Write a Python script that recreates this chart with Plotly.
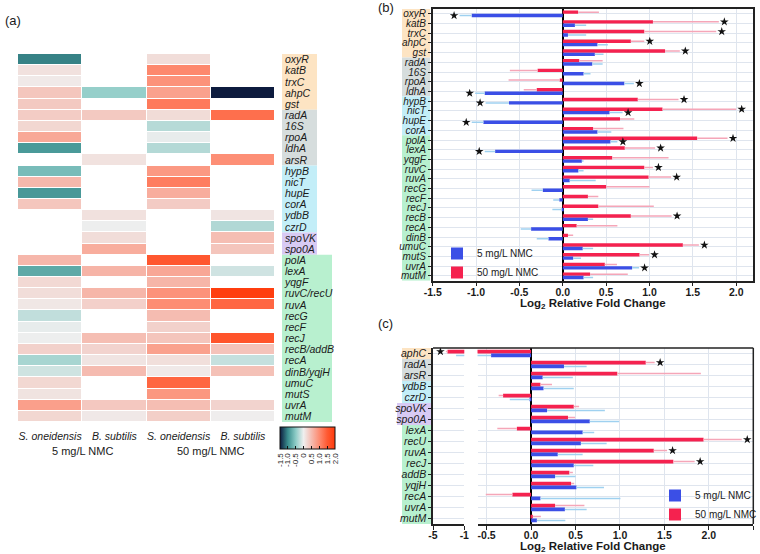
import plotly.graph_objects as go

W, H = 760, 554
FONT = "Liberation Sans, Arial, sans-serif"
TXT = "#1a1a1a"

# ---------------- data: panel (b) S. oneidensis ----------------
so_genes = ["oxyR", "katB", "trxC", "ahpC", "gst", "radA", "16S", "rpoA", "ldhA",
            "hypB", "nicT", "hupE", "corA", "polA", "lexA", "yqgF", "ruvC", "ruvA",
            "recG", "recF", "recJ", "recB", "recA", "dinB", "umuC", "mutS", "uvrA", "mutM"]
so_5 = [-1.05, 0.14, 0.06, 0.40, 0.37, 0.34, 0.24, 0.71, -0.90,
        -0.62, 0.54, -0.915, 0.40, 0.55, -0.78, 0.22, 0.18, 0.08,
        -0.23, -0.04, -0.01, 0.29, -0.365, -0.165, 0.23, 0.12, 0.80, 0.24]
so_5_err = [0.14, 0.13, 0.21, 0.12, 0.10, 0.12, 0.08, 0.11, 0.11,
            0.27, 0.15, 0.135, 0.16, 0.08, 0.12, 0.02, 0.06, 0.30,
            0.13, 0.07, 0.11, 0.06, 0.12, 0.135, 0.12, 0.09, 0.08, 0.11]
so_5_sig = [1, 0, 0, 0, 0, 0, 0, 1, 1,
            1, 1, 1, 0, 1, 1, 0, 0, 0,
            0, 0, 0, 0, 0, 0, 0, 0, 1, 0]
so_50 = [0.177, 1.04, 0.94, 0.785, 1.18, 0.19, -0.29, -0.035, -0.30,
         0.865, 1.15, 0.66, 0.35, 1.55, 0.715, 0.57, 0.94, 0.99,
         0.50, 0.29, 0.41, 0.785, 0.16, 0.06, 1.385, 0.885, 0.485, 0.315]
so_50_err = [0.24, 0.76, 0.83, 0.155, 0.17, 0.27, 0.32, 0.59, 0.15,
             0.47, 0.85, 0.165, 0.35, 0.35, 0.35, 0.65, 0.10, 0.26,
             0.50, 0.12, 0.64, 0.47, 0.47, 0.06, 0.185, 0.11, 0.14, 0.435]
so_50_sig = [0, 1, 1, 1, 1, 0, 0, 0, 0,
             1, 1, 0, 0, 1, 1, 0, 1, 1,
             0, 0, 0, 1, 0, 0, 1, 1, 0, 0]

# ---------------- data: panel (c) B. subtilis ----------------
bs_genes = ["aphC", "radA", "arsR", "ydbB", "czrD", "spoVK", "spo0A", "lexA",
            "recU", "ruvA", "recJ", "addB", "yqjH", "recA", "uvrA", "mutM"]
bs_5 = [-0.45, 0.37, 0.13, 0.14, -0.01, 0.18, 0.66, 0.58,
        0.56, 0.30, 0.48, 0.27, 0.51, 0.105, 0.38, 0.065]
bs_5_err = [1.60, 0.255, 0.34, 0.34, 0.23, 0.65, 0.33, 0.13,
            0.29, 0.28, 0.22, 0.23, 0.31, 0.90, 0.245, 0.32]
bs_5_sig = [0] * 16
bs_50 = [-3.15, 1.29, 0.97, 0.105, -0.315, 0.48, 0.415, -0.16,
         1.94, 1.38, 1.60, 0.43, 0.45, -0.21, 0.27, 0.02]
bs_50_err = [0.20, 0.10, 0.94, 0.13, 0.05, 0.06, 0.08, 0.22,
             0.43, 0.15, 0.24, 0.04, 0.035, 0.30, 0.33, 0.09]
bs_50_sig = [1, 1, 0, 0, 0, 0, 0, 0, 1, 1, 1, 0, 0, 0, 0, 0]

# ---------------- data: panel (a) heatmap rows ----------------
heat_labels = ["oxyR", "katB", "trxC", "ahpC", "gst", "radA", "16S", "rpoA", "ldhA", "arsR",
               "hypB", "nicT", "hupE", "corA", "ydbB", "czrD", "spoVK", "spo0A",
               "polA", "lexA", "yqgF", "ruvC/recU", "ruvA", "recG", "recF", "recJ",
               "recB/addB", "recA", "dinB/yqjH", "umuC", "mutS", "uvrA", "mutM"]
heat_so_key = ["oxyR", "katB", "trxC", "ahpC", "gst", "radA", "16S", "rpoA", "ldhA", None,
               "hypB", "nicT", "hupE", "corA", None, None, None, None,
               "polA", "lexA", "yqgF", "ruvC", "ruvA", "recG", "recF", "recJ",
               "recB", "recA", "dinB", "umuC", "mutS", "uvrA", "mutM"]
heat_bs_key = [None, None, None, "aphC", None, "radA", None, None, None, "arsR",
               None, None, None, None, "ydbB", "czrD", "spoVK", "spo0A",
               None, "lexA", None, "recU", "ruvA", None, None, "recJ",
               "addB", "recA", "yqjH", None, None, "uvrA", "mutM"]
heat_cols = ["S. oneidensis", "B. subtilis", "S. oneidensis", "B. subtilis"]
conc_labels = ["5 mg/L NMC", "50 mg/L NMC"]
cbar_ticks = [-1.5, -1.0, -0.5, 0.0, 0.5, 1.0, 1.5, 2.0]
b_ticks = [-1.5, -1.0, -0.5, 0.0, 0.5, 1.0, 1.5, 2.0]
cr_ticks = [-0.5, 0.0, 0.5, 1.0, 1.5, 2.0, 2.5]
cl_ticks = [-5, -1]

# gene category groups (label background colours)
heat_groups = [("oxyR", "gst", "#fde4c3"), ("radA", "arsR", "#d6dddd"),
               ("hypB", "czrD", "#c3eef8"), ("spoVK", "spo0A", "#d8caf4"),
               ("polA", "mutM", "#b8f0cf")]
so_groups = [("oxyR", "gst", "#fde4c3"), ("radA", "ldhA", "#d6dddd"),
             ("hypB", "corA", "#c3eef8"), ("polA", "mutM", "#b8f0cf")]
bs_groups = [("aphC", "aphC", "#fde4c3"), ("radA", "arsR", "#d6dddd"),
             ("ydbB", "czrD", "#c3eef8"), ("spoVK", "spo0A", "#d8caf4"),
             ("lexA", "mutM", "#b8f0cf")]

BLUE, RED = "#3b4fe6", "#f5224f"
BLUE_ERR, RED_ERR = "#9fd1f0", "#f5a6b8"

# ---------------- layout geometry ----------------
def dx(a, b):
    return [a / W, b / W]

def dy(top, bottom):
    return [1 - bottom / H, 1 - top / H]

XD_HEAT, YD_HEAT = dx(18, 275), dy(54, 422)
XD_B, YD_B = dx(432.7, 753), dy(9, 280.7)
XD_CL, XD_CR, YD_C = dx(433, 464.3), dx(477.5, 753.3), dy(348, 524)
RANGE_B = [-1.5, 2.194]
RANGE_CL = [-5, -1]
RANGE_CR = [-0.603, 2.5]

def ppu(dom, rng):
    return (dom[1] - dom[0]) * W / (rng[1] - rng[0])

PPU_B = ppu(XD_B, RANGE_B)
PPU_CL = ppu(XD_CL, RANGE_CL)
PPU_CR = ppu(XD_CR, RANGE_CR)
STAR_PAD_PX = 5.5
BAR_W = 0.35
OFF = 0.175

fig = go.Figure()

# ---------------- heatmap ----------------
so5d = dict(zip(so_genes, so_5)); so50d = dict(zip(so_genes, so_50))
bs5d = dict(zip(bs_genes, bs_5)); bs50d = dict(zip(bs_genes, bs_50))
nan = float("nan")
z = []
for sk, bk in zip(heat_so_key, heat_bs_key):
    z.append([so5d[sk] if sk else nan, bs5d[bk] if bk else nan,
              so50d[sk] if sk else nan, bs50d[bk] if bk else nan])

cmin, cmax = -1.5, 2.0
stops = [(-1.5, "#0d1b3e"), (-1.0, "#3a8e8e"), (-0.5, "#8ccbc6"), (0.0, "#efefef"),
         (0.5, "#f5bcb1"), (1.0, "#fd8c72"), (1.5, "#ff5a33"), (2.0, "#ff3a0a")]
cscale = [[(v - cmin) / (cmax - cmin), c] for v, c in stops]

fig.add_trace(go.Heatmap(
    z=z, x=list(range(4)), y=list(range(len(heat_labels))),
    colorscale=cscale, zmin=cmin, zmax=cmax, xgap=1, ygap=1,
    hoverinfo="skip", xaxis="x", yaxis="y",
    colorbar=dict(orientation="h", x=280 / W, xanchor="left", y=1 - 427 / H, yanchor="top",
                  len=55, lenmode="pixels", thickness=22, thicknessmode="pixels",
                  xpad=0, ypad=0, tickvals=cbar_ticks,
                  ticktext=["0" if t == 0 else f"{t:.1f}" for t in cbar_ticks],
                  tickangle=-90, tickfont=dict(size=8, color=TXT, family=FONT),
                  ticks="inside", ticklen=3, tickcolor="#111",
                  outlinecolor="#111", outlinewidth=1),
))

# ---------------- bar panels ----------------
def add_bars(vals, errs, sig, idx_offset, color, ecolor, name, xa, ya, legend, show, rank, ppu_ax):
    ys = [i + idx_offset for i in range(len(vals))]
    plus = [e if v >= 0 else 0 for v, e in zip(vals, errs)]
    minus = [0 if v >= 0 else e for v, e in zip(vals, errs)]
    fig.add_trace(go.Bar(
        x=vals, y=ys, orientation="h", width=BAR_W, name=name,
        marker=dict(color=color, line=dict(width=0)),
        error_x=dict(type="data", symmetric=False, array=plus, arrayminus=minus,
                     color=ecolor, thickness=1.5, width=0),
        xaxis=xa, yaxis=ya, legend=legend, showlegend=show, legendrank=rank,
        hoverinfo="skip"))
    sx, sy = [], []
    for v, e, s, y in zip(vals, errs, sig, ys):
        if s:
            sgn = 1 if v >= 0 else -1
            sx.append(v + sgn * (e + STAR_PAD_PX / ppu_ax))
            sy.append(y)
    if sx:
        fig.add_trace(go.Scatter(
            x=sx, y=sy, mode="markers", xaxis=xa, yaxis=ya, showlegend=False,
            marker=dict(symbol="star", size=6.5, color="#111"), hoverinfo="skip"))

# panel (b)
add_bars(so_50, so_50_err, so_50_sig, -OFF, RED, RED_ERR, "50 mg/L NMC", "x2", "y2", "legend", True, 2, PPU_B)
add_bars(so_5, so_5_err, so_5_sig, OFF, BLUE, BLUE_ERR, "5 mg/L NMC", "x2", "y2", "legend", True, 1, PPU_B)
# panel (c): right and left (broken) segments
add_bars(bs_50, bs_50_err, bs_50_sig, -OFF, RED, RED_ERR, "50 mg/L NMC", "x4", "y3", "legend2", True, 2, PPU_CR)
add_bars(bs_5, bs_5_err, bs_5_sig, OFF, BLUE, BLUE_ERR, "5 mg/L NMC", "x4", "y3", "legend2", True, 1, PPU_CR)
add_bars(bs_50, bs_50_err, bs_50_sig, -OFF, RED, RED_ERR, "50 mg/L NMC", "x3", "y3", "legend2", False, 2, PPU_CL)
add_bars(bs_5, bs_5_err, bs_5_sig, OFF, BLUE, BLUE_ERR, "5 mg/L NMC", "x3", "y3", "legend2", False, 1, PPU_CL)

# ---------------- axes ----------------
GRID = "#dfe5ee"
LINE = "#222222"
tickfont_b = dict(size=10.5, color=TXT, family=FONT, weight="bold")
ytickfont = dict(size=10.5, color=TXT, family=FONT)
ytickfont_b = dict(size=10, color=TXT, family=FONT)

def fmt(v):
    return f"{v:.1f}"

fig.update_layout(
    width=W, height=H, margin=dict(l=0, r=0, t=0, b=0, autoexpand=False),
    paper_bgcolor="white", plot_bgcolor="white", barmode="overlay",
    font=dict(family=FONT, color=TXT),
    xaxis=dict(domain=XD_HEAT, anchor="y", range=[-0.5, 3.5], tickvals=list(range(4)),
               ticktext=[f"<i>{c}</i>" for c in heat_cols], showgrid=False, zeroline=False,
               ticks="", ticklabelstandoff=6, automargin=False,
               tickfont=dict(size=10.5, color=TXT, family=FONT)),
    yaxis=dict(domain=YD_HEAT, anchor="x", side="right", range=[len(heat_labels) - 0.5, -0.5],
               tickvals=list(range(len(heat_labels))), ticktext=[f"<i>{g}</i>" for g in heat_labels],
               showgrid=False, zeroline=False, ticks="", ticklabelstandoff=9, automargin=False,
               tickfont=ytickfont),
    xaxis2=dict(domain=XD_B, anchor="y2", range=RANGE_B, tickvals=b_ticks,
                ticktext=[fmt(t) for t in b_ticks], showgrid=True, gridcolor=GRID, gridwidth=1,
                zeroline=True, zerolinecolor="#000", zerolinewidth=2,
                showline=True, linecolor=LINE, linewidth=1.5, mirror=True, automargin=False,
                ticks="outside", ticklen=4, tickcolor=LINE, ticklabelstandoff=-3, tickfont=tickfont_b),
    yaxis2=dict(domain=YD_B, anchor="x2", range=[len(so_genes) - 0.5, -0.5],
                tickvals=list(range(len(so_genes))), ticktext=[f"<i>{g}</i>" for g in so_genes],
                showgrid=True, gridcolor=GRID, zeroline=False, automargin=False,
                showline=True, linecolor=LINE, linewidth=1.5, mirror=True,
                ticks="outside", ticklen=3, tickcolor=LINE, tickfont=ytickfont_b),
    xaxis3=dict(domain=XD_CL, anchor="y3", range=RANGE_CL, tickvals=cl_ticks,
                ticktext=[str(t) for t in cl_ticks], showgrid=True, gridcolor=GRID,
                zeroline=False, showline=True, linecolor=LINE, linewidth=1.5, automargin=False,
                ticks="outside", ticklen=4, tickcolor=LINE, ticklabelstandoff=-3, tickfont=tickfont_b),
    xaxis4=dict(domain=XD_CR, anchor="y3", range=RANGE_CR,
                tickvals=cr_ticks, ticktext=[fmt(t) for t in cr_ticks],
                showgrid=True, gridcolor=GRID, zeroline=True, zerolinecolor="#000", zerolinewidth=2,
                showline=True, linecolor=LINE, linewidth=1.5, automargin=False,
                ticks="outside", ticklen=4, tickcolor=LINE, ticklabelstandoff=-3, tickfont=tickfont_b),
    yaxis3=dict(domain=YD_C, anchor="x3", range=[len(bs_genes) - 0.5, -0.5],
                tickvals=list(range(len(bs_genes))), ticktext=[f"<i>{g}</i>" for g in bs_genes],
                showgrid=True, gridcolor=GRID, zeroline=False, automargin=False,
                showline=True, linecolor=LINE, linewidth=1.5,
                ticks="outside", ticklen=3, tickcolor=LINE, tickfont=ytickfont),
    legend=dict(x=437 / W, y=1 - 239 / H, xanchor="left", yanchor="top",
                bgcolor="rgba(0,0,0,0)", font=dict(size=10, color=TXT, family=FONT),
                itemwidth=30, traceorder="normal"),
    legend2=dict(x=655 / W, y=1 - 481 / H, xanchor="left", yanchor="top",
                 bgcolor="rgba(0,0,0,0)", font=dict(size=10, color=TXT, family=FONT),
                 itemwidth=30, traceorder="normal"),
)

# ---------------- label background boxes ----------------
shapes = []
def group_boxes(groups, names, yref, x0, x1, wide=None):
    for a, b, col in groups:
        i0, i1 = names.index(a), names.index(b)
        xx0, xx1 = x0, x1
        if wide and a in wide:
            xx0, xx1 = wide[a]
        shapes.append(dict(type="rect", xref="paper", yref=yref, x0=xx0 / W, x1=xx1 / W,
                           y0=i0 - 0.5, y1=i1 + 0.5, fillcolor=col, line=dict(width=0), layer="below"))

group_boxes(heat_groups, heat_labels, "y", 282, 317, wide={"polA": (282, 332)})
group_boxes(so_groups, so_genes, "y2", 402, 430)
group_boxes(bs_groups, bs_genes, "y3", 402, 431, wide={"spoVK": (397, 431)})

# frame for broken-axis panel (c)
shapes.append(dict(type="line", xref="paper", yref="paper", x0=XD_CL[0], x1=XD_CR[1],
                   y0=YD_C[1], y1=YD_C[1], line=dict(color=LINE, width=1.5)))
shapes.append(dict(type="line", xref="paper", yref="paper", x0=XD_CR[1], x1=XD_CR[1],
                   y0=YD_C[0], y1=YD_C[1], line=dict(color=LINE, width=1.5)))
fig.update_layout(shapes=shapes)

# ---------------- annotations ----------------
ann = []
for lab, xp, yp in [("(a)", 3, 21), ("(b)", 376, 8), ("(c)", 376, 323)]:
    ann.append(dict(text=lab, x=xp / W, y=1 - yp / H, xref="paper", yref="paper",
                    xanchor="left", yanchor="middle", showarrow=False, font=dict(size=13, color=TXT)))
for k, lab in enumerate(conc_labels):
    ann.append(dict(text=lab, x=2 * k + 0.5, xref="x", y=1 - 451 / H, yref="paper",
                    xanchor="center", yanchor="middle", showarrow=False, font=dict(size=11, color=TXT)))
title = "<b>Log<sub>2</sub> Relative Fold Change</b>"
ann.append(dict(text=title, x=(XD_B[0] + XD_B[1]) / 2, y=1 - 304 / H, xref="paper", yref="paper",
                xanchor="center", yanchor="middle", showarrow=False, font=dict(size=11.5, color=TXT)))
ann.append(dict(text=title, x=(XD_CL[0] + XD_CR[1]) / 2, y=1 - 547 / H, xref="paper", yref="paper",
                xanchor="center", yanchor="middle", showarrow=False, font=dict(size=11.5, color=TXT)))
fig.update_layout(annotations=ann)

fig.write_html("out.html", config={"displayModeBar": False},
               post_script="document.body.style.margin='0';document.body.style.padding='0';")
